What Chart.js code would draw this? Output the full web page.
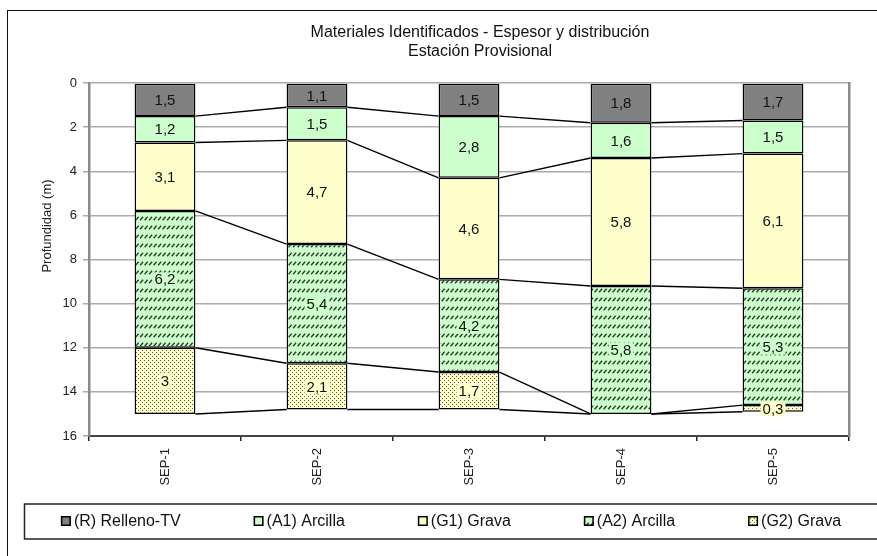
<!DOCTYPE html>
<html>
<head>
<meta charset="utf-8">
<script src="https://cdn.jsdelivr.net/npm/chart.js@4.4.1/dist/chart.umd.min.js"></script>
<style>
  body { margin: 0; overflow: hidden; background: #fff; }
  #wrap { position: absolute; left: 0; top: 0; width: 960px; height: 556px; }
</style>
</head>
<body>
<div id="wrap"><canvas id="perfil" width="960" height="556"></canvas></div>
<script>
// ---------------------------------------- data ----------------------------------------
var categories = ['SEP-1', 'SEP-2', 'SEP-3', 'SEP-4', 'SEP-5'];
var relleno  = [1.5, 1.1, 1.5, 1.8, 1.7];   // (R) Relleno-TV
var arcilla1 = [1.2, 1.5, 2.8, 1.6, 1.5];   // (A1) Arcilla
var grava1   = [3.1, 4.7, 4.6, 5.8, 6.1];   // (G1) Grava
var arcilla2 = [6.2, 5.4, 4.2, 5.8, 5.3];   // (A2) Arcilla
var grava2   = [3, 2.1, 1.7, 0, 0.3];       // (G2) Grava
var depthTicks = [0, 2, 4, 6, 8, 10, 12, 14, 16];

var FONT = '"Liberation Sans", Arial, sans-serif';

// ---------------------------------------- fills ----------------------------------------
function makePattern(bg, w, h, draw) {
	var c = document.createElement('canvas');
	c.width = w; c.height = h;
	var g = c.getContext('2d');
	g.fillStyle = bg;
	g.fillRect(0, 0, w, h);
	draw(g);
	return g.createPattern(c, 'repeat');
}
// rows of short "/" dashes
var hatchGreen = makePattern('#ccffcc', 9, 9, function(g) {
	g.strokeStyle = '#2b3f2b';
	g.lineWidth = 1.4;
	g.beginPath();
	g.moveTo(0.6, 4.2); g.lineTo(3.6, 0.8);
	g.moveTo(5.1, 4.2); g.lineTo(8.1, 0.8);
	g.stroke();
});
var dotsYellow = makePattern('#ffffcc', 4, 4, function(g) {
	g.fillStyle = '#5f5f45';
	g.fillRect(0, 0, 1, 1);
	g.fillRect(2, 2, 1, 1);
});

// ---------------------------------------- plugins ----------------------------------------
var frame = {
	id: 'frame',
	beforeDraw: function(chart) {
		var ctx = chart.ctx;
		ctx.save();
		ctx.fillStyle = '#fff';
		ctx.fillRect(0, 0, chart.width, chart.height);
		ctx.strokeStyle = '#111';
		ctx.lineWidth = 1;
		ctx.strokeRect(7.5, 10.5, 1000, 600);
		ctx.restore();
	}
};

// lines joining each layer boundary from one bar to the next
var seriesLines = {
	id: 'seriesLines',
	afterDatasetsDraw: function(chart) {
		var ctx = chart.ctx;
		ctx.save();
		ctx.strokeStyle = '#000';
		ctx.lineWidth = 1.4;
		chart.data.datasets.forEach(function(ds, d) {
			var bars = chart.getDatasetMeta(d).data;
			for (var i = 0; i < bars.length - 1; i++) {
				var a = bars[i], b = bars[i + 1];
				ctx.beginPath();
				ctx.moveTo(a.x + a.width / 2, a.y);
				ctx.lineTo(b.x - b.width / 2, b.y);
				ctx.stroke();
			}
		});
		ctx.restore();
	}
};

var barLabels = {
	id: 'barLabels',
	afterDatasetsDraw: function(chart) {
		var ctx = chart.ctx;
		ctx.save();
		ctx.font = '15px ' + FONT;
		ctx.textAlign = 'center';
		ctx.textBaseline = 'middle';
		chart.data.datasets.forEach(function(ds, d) {
			chart.getDatasetMeta(d).data.forEach(function(bar, i) {
				var v = ds.data[i];
				if (!v) return;
				var txt = String(v).replace('.', ',');
				var cy = (bar.y + bar.base) / 2;
				var w = ctx.measureText(txt).width;
				if (ds.labelBg) {
					ctx.fillStyle = ds.labelBg;
					ctx.fillRect(bar.x - w / 2 - 2, cy - 7, w + 4, 15);
				}
				ctx.fillStyle = '#111';
				ctx.fillText(txt, bar.x, cy + 1);
			});
		});
		ctx.restore();
	}
};

// y axis title + boxed legend
var extras = {
	id: 'extras',
	afterDraw: function(chart) {
		var ctx = chart.ctx;
		ctx.save();
		ctx.translate(47, 226);
		ctx.rotate(-Math.PI / 2);
		ctx.font = '13px ' + FONT;
		ctx.fillStyle = '#222';
		ctx.textAlign = 'center';
		ctx.textBaseline = 'middle';
		ctx.fillText('Profundidad (m)', 0, 0);
		ctx.restore();

		ctx.save();
		ctx.strokeStyle = '#222';
		ctx.lineWidth = 1.5;
		ctx.strokeRect(24.5, 504, 900, 35);
		ctx.font = '16px ' + FONT;
		ctx.textBaseline = 'middle';
		var gap = 73, total = -gap;
		var items = chart.data.datasets.map(function(ds) {
			var w = 13 + ctx.measureText(ds.label).width;
			total += w + gap;
			return { ds: ds, w: w };
		});
		var x = 451 - total / 2, cy = 521;
		items.forEach(function(it) {
			ctx.fillStyle = it.ds.backgroundColor;
			ctx.fillRect(x, cy - 5, 10, 10);
			ctx.strokeStyle = '#000';
			ctx.lineWidth = 1.5;
			ctx.strokeRect(x + 0.75, cy - 4.25, 8.5, 8.5);
			ctx.fillStyle = '#111';
			ctx.fillText(it.ds.label, x + 13, cy + 1);
			x += it.w + gap;
		});
		ctx.restore();
	}
};

// ---------------------------------------- chart ----------------------------------------
var ctx = document.getElementById('perfil').getContext('2d');
var perfil = new Chart(ctx, {
	type: 'bar',
	data: {
		labels: categories,
		datasets: [
			{ label: '(R) Relleno-TV', data: relleno,  backgroundColor: '#808080' },
			{ label: '(A1) Arcilla',   data: arcilla1, backgroundColor: '#ccffcc' },
			{ label: '(G1) Grava',     data: grava1,   backgroundColor: '#ffffcc' },
			{ label: '(A2) Arcilla',   data: arcilla2, backgroundColor: hatchGreen, labelBg: '#ccffcc' },
			{ label: '(G2) Grava',     data: grava2,   backgroundColor: dotsYellow, labelBg: '#ffffcc' }
		]
	},
	options: {
		responsive: false,
		animation: false,
		devicePixelRatio: 1,
		datasets: {
			bar: {
				borderColor: '#000',
				borderWidth: 1.5,
				borderSkipped: false,
				barPercentage: 0.4,
				categoryPercentage: 1
			}
		},
		layout: { padding: { left: 8, right: 8, top: 12, bottom: 70 } },
		plugins: {
			legend: { display: false },
			tooltip: { enabled: false },
			title: {
				display: true,
				text: ['Materiales Identificados - Espesor y distribución', 'Estación Provisional'],
				color: '#111',
				font: { family: FONT, size: 16, weight: 'normal' },
				padding: { top: 11, bottom: 21.6 }
			}
		},
		scales: {
			x: {
				stacked: true,
				grid: { drawOnChartArea: false, tickLength: 5, color: '#222', lineWidth: 1.5 },
				border: { color: '#444', width: 2 },
				ticks: { minRotation: 90, maxRotation: 90, padding: 7, color: '#222', font: { family: FONT, size: 13 } },
				afterFit: function(s) { s.height = 50; }
			},
			y: {
				stacked: true,
				reverse: true,
				min: 0,
				max: 16,
				afterBuildTicks: function(s) { s.ticks = depthTicks.map(function(v) { return { value: v }; }); },
				ticks: { padding: 6, color: '#222', font: { family: FONT, size: 13 } },
				grid: { color: '#ababab', lineWidth: 1.5, tickLength: 6 },
				border: { color: '#8a8a8a', width: 2.5 },
				afterFit: function(s) { s.width = 81; }
			},
			yRight: {
				position: 'right',
				ticks: { display: false },
				grid: { drawOnChartArea: false, drawTicks: false },
				border: { color: '#8a8a8a', width: 2.5 },
				afterFit: function(s) { s.width = 103; }
			}
		}
	},
	plugins: [frame, seriesLines, barLabels, extras]
});
</script>
</body>
</html>
